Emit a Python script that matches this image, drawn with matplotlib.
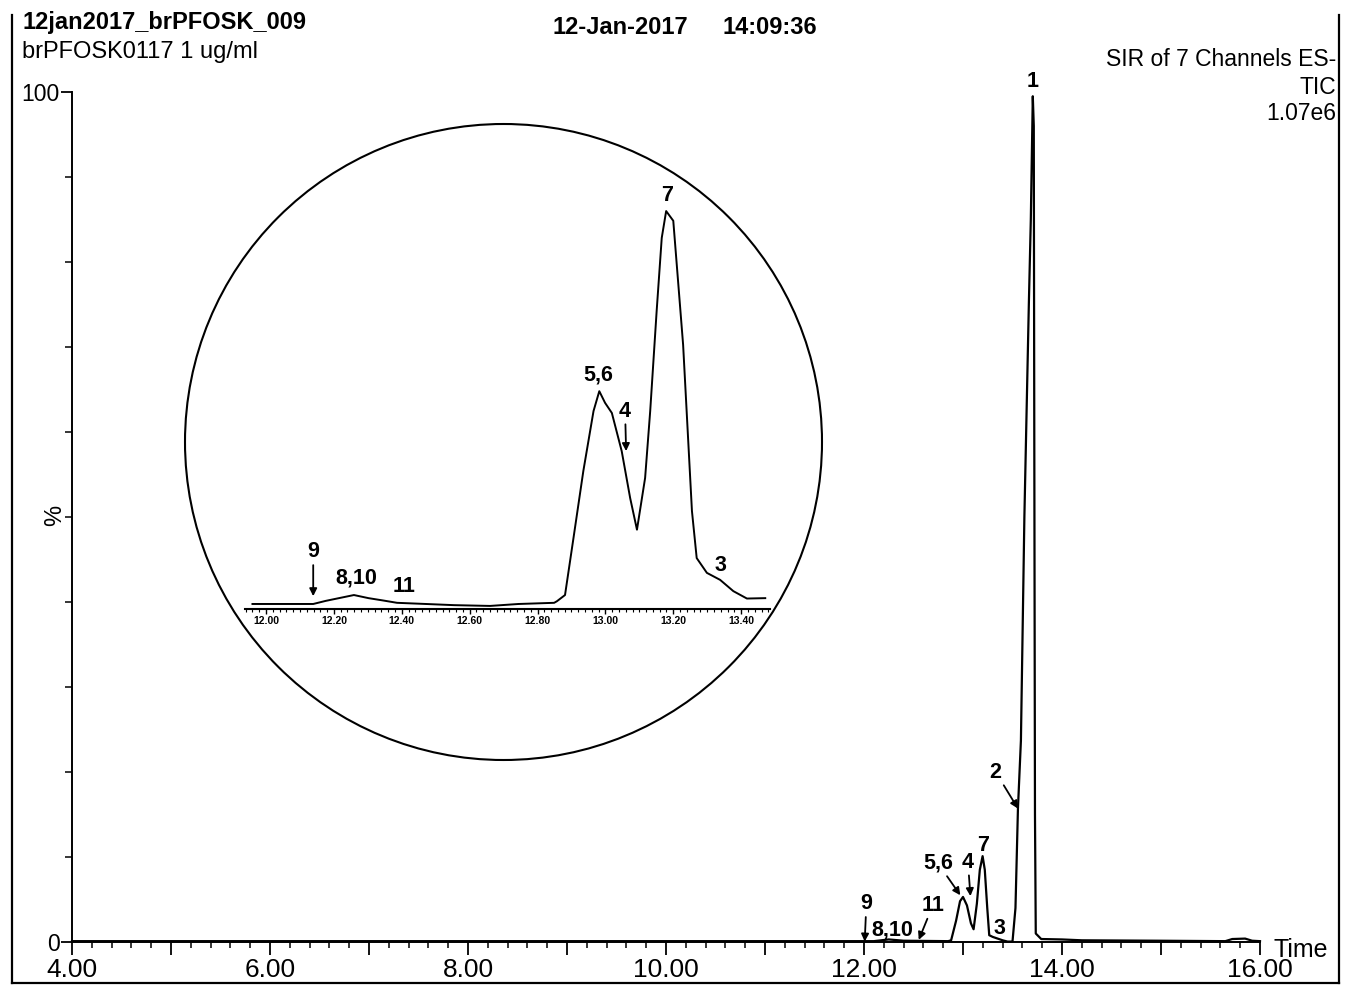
import matplotlib
matplotlib.use("Agg")
import matplotlib.pyplot as plt
from matplotlib.patches import Ellipse
from matplotlib.lines import Line2D
import numpy as np

plt.rcParams['font.family'] = ['Liberation Sans', 'DejaVu Sans']

W, H = 1346, 986

# ---------------- data ----------------
main_time = [4.00, 7.00, 11.90, 12.10, 12.25, 12.40, 12.85, 12.88, 12.93, 12.97, 13.00,
             13.04, 13.08, 13.107, 13.14, 13.17, 13.198, 13.22, 13.245, 13.265, 13.30,
             13.35, 13.40, 13.45, 13.50, 13.53, 13.555, 13.585, 13.62, 13.665, 13.685,
             13.705, 13.715, 13.72, 13.727, 13.735, 13.79, 14.00, 14.20, 15.00, 15.65,
             15.72, 15.85, 15.92, 16.00]
main_signal = [0.1, 0.1, 0.1, 0.1, 0.3, 0.15, 0.1, 0.2, 2.5, 4.8, 5.3,
               4.3, 2.2, 1.5, 4.5, 8.5, 10.1, 8.5, 4.0, 0.8, 0.6,
               0.4, 0.2, 0.05, 0.05, 4.0, 15.7, 23.7, 50.0, 75.0, 85.0,
               99.5, 96.0, 60.0, 15.0, 1.0, 0.35, 0.3, 0.2, 0.15, 0.1,
               0.35, 0.4, 0.15, 0.1]

inset_time = [11.960, 12.050, 12.139, 12.176, 12.259, 12.302, 12.345, 12.386, 12.471,
              12.554, 12.660, 12.744, 12.849, 12.857, 12.881, 12.906, 12.935, 12.965,
              12.982, 12.999, 13.019, 13.048, 13.073, 13.093, 13.117, 13.132, 13.151,
              13.166, 13.179, 13.200, 13.229, 13.255, 13.269, 13.299, 13.338, 13.377,
              13.417, 13.471]
inset_signal = [0.0, 0.0, 0.0, 0.08, 0.23, 0.15, 0.09, 0.03, 0.0,
                -0.03, -0.05, 0.0, 0.03, 0.07, 0.23, 1.70, 3.42, 4.96,
                5.47, 5.17, 4.91, 3.93, 2.72, 1.91, 3.24, 4.96, 7.53,
                9.41, 10.10, 9.85, 6.66, 2.39, 1.18, 0.80, 0.62, 0.33,
                0.14, 0.15]

main_xticks = [4, 6, 8, 10, 12, 14, 16]
main_xticklabels = ["4.00", "6.00", "8.00", "10.00", "12.00", "14.00", "16.00"]
main_yticks = [0, 100]
main_yticklabels = ["0", "100"]
inset_xticks = [12.0, 12.2, 12.4, 12.6, 12.8, 13.0, 13.2, 13.4]
inset_xticklabels = ["12.00", "12.20", "12.40", "12.60", "12.80", "13.00", "13.20", "13.40"]

header_left = ["12jan2017_brPFOSK_009", "brPFOSK0117 1 ug/ml"]
header_mid = ["12-Jan-2017", "14:09:36"]
header_right = ["SIR of 7 Channels ES-", "TIC", "1.07e6"]

# ---------------- helpers ----------------
def fx(x):
    return x / W

def fy(y):
    return 1 - y / H

fig = plt.figure(figsize=(W / 100, H / 100), dpi=100)
fig.patch.set_facecolor('white')

# ---------------- main axes ----------------
ax = fig.add_axes([fx(72), fy(942), (1260 - 72) / W, (942 - 92) / H])
ax.patch.set_alpha(0)
ax.plot(main_time, main_signal, color='k', lw=1.6, clip_on=False)
ax.set_xlim(4, 16)
ax.set_ylim(0, 100)
for s in ['top', 'right']:
    ax.spines[s].set_visible(False)
for s in ['left', 'bottom']:
    ax.spines[s].set_linewidth(1.4)

ax.set_xticks(np.arange(4, 17, 1))
ax.set_xticklabels([main_xticklabels[main_xticks.index(int(t))] if int(t) in main_xticks else ""
                    for t in np.arange(4, 17, 1)])
ax.set_xticks(np.arange(4, 16.001, 0.2), minor=True)
ax.tick_params(axis='x', which='major', direction='out', length=9.5, width=1.3,
               labelsize=19, pad=2)
ax.tick_params(axis='x', which='minor', direction='out', length=4.5, width=1.1)

ax.set_yticks(main_yticks)
ax.set_yticklabels(main_yticklabels)
ax.set_yticks(np.arange(10, 100, 10), minor=True)
ax.tick_params(axis='y', which='major', direction='out', length=8, width=1.3,
               labelsize=16.5, pad=1)
ax.tick_params(axis='y', which='minor', direction='out', length=5, width=1.1)

fig.text(fx(55), fy(515), "%", rotation=90, fontsize=17, ha='center', va='center')
fig.text(fx(1273), fy(950), "Time", fontsize=18, ha='left', va='center')

lab = dict(fontsize=15.5, fontweight='bold', ha='center', va='center')
arr = dict(arrowstyle='-|>', lw=1.3, color='k', mutation_scale=11, shrinkA=0, shrinkB=0)

ax.annotate("1", xy=(13.705, 100.0), ha='center', va='bottom', fontsize=15.5,
            fontweight='bold', annotation_clip=False)
ax.annotate("2", xy=(13.555, 15.7), xytext=(13.33, 20.0), arrowprops=arr, **lab)
ax.annotate("7", xy=(13.20, 11.4), **lab)
ax.annotate("4", xy=(13.075, 5.4), xytext=(13.05, 9.4), arrowprops=arr, **lab)
ax.annotate("5,6", xy=(12.973, 5.5), xytext=(12.745, 9.3), arrowprops=arr, **lab)
ax.annotate("3", xy=(13.365, 1.6), **lab)
ax.annotate("11", xy=(12.553, 0.25), xytext=(12.695, 4.3), arrowprops=arr, **lab)
ax.annotate("8,10", xy=(12.29, 1.4), **lab)
ax.annotate("9", xy=(12.007, 0.05), xytext=(12.024, 4.5), arrowprops=arr, **lab)

# ---------------- inset ----------------
ix0 = 11.938
ix1 = 13.485
iax = fig.add_axes([fx(245), fy(609), (770 - 245) / W, (609 - 178) / H])
iax.patch.set_alpha(0)
iax.plot(inset_time, inset_signal, color='k', lw=1.4)
iax.set_xlim(ix0, ix1)
iax.set_ylim(-0.129, 10.95)
for s in ['top', 'right', 'left']:
    iax.spines[s].set_visible(False)
iax.spines['bottom'].set_linewidth(1.5)
iax.set_yticks([])
iax.set_xticks(inset_xticks)
iax.set_xticklabels(inset_xticklabels, fontsize=7.5, fontweight='bold')
iax.set_xticks(np.arange(11.94, 13.49, 0.02), minor=True)
iax.tick_params(axis='x', which='major', direction='out', length=3.5, width=1.0, pad=1.5)
iax.tick_params(axis='x', which='minor', direction='out', length=1.8, width=0.8)

ilab = dict(fontsize=15.5, fontweight='bold', ha='center', va='center')
iax.annotate("9", xy=(12.139, 0.2), xytext=(12.139, 1.34), arrowprops=arr, **ilab)
iax.annotate("8,10", xy=(12.265, 0.67), **ilab)
iax.annotate("11", xy=(12.407, 0.44), **ilab)
iax.annotate("5,6", xy=(12.978, 5.89), **ilab)
iax.annotate("4", xy=(13.061, 3.93), xytext=(13.058, 4.96), arrowprops=arr, **ilab)
iax.annotate("7", xy=(13.181, 10.49), **ilab)
iax.annotate("3", xy=(13.338, 1.0), **ilab)

# magnifier circle
fig.add_artist(Ellipse((fx(503.5), fy(442)), width=637 / W, height=636 / H,
                       transform=fig.transFigure, fill=False, lw=1.5, color='k'))

# ---------------- page frame ----------------
fig.add_artist(Line2D([fx(12), fx(12)], [fy(15), fy(983)], transform=fig.transFigure,
                      color='k', lw=1.6))
fig.add_artist(Line2D([fx(12), fx(1339)], [fy(983), fy(983)], transform=fig.transFigure,
                      color='k', lw=1.6))
fig.add_artist(Line2D([fx(1339), fx(1339)], [fy(15), fy(983)], transform=fig.transFigure,
                      color='k', lw=1.6))

# ---------------- header texts ----------------
fig.text(fx(22), fy(23), header_left[0], fontsize=17, fontweight='bold', ha='left', va='center')
fig.text(fx(22), fy(52), header_left[1], fontsize=17, ha='left', va='center')
fig.text(fx(553), fy(27), header_mid[0], fontsize=17, fontweight='bold', ha='left', va='center')
fig.text(fx(723), fy(27), header_mid[1], fontsize=17, fontweight='bold', ha='left', va='center')
fig.text(fx(1336), fy(60), header_right[0], fontsize=16.5, ha='right', va='center')
fig.text(fx(1336), fy(87), header_right[1], fontsize=16.5, ha='right', va='center')
fig.text(fx(1336), fy(113), header_right[2], fontsize=16.5, ha='right', va='center')

fig.savefig("out.png", dpi=100, facecolor='white')
